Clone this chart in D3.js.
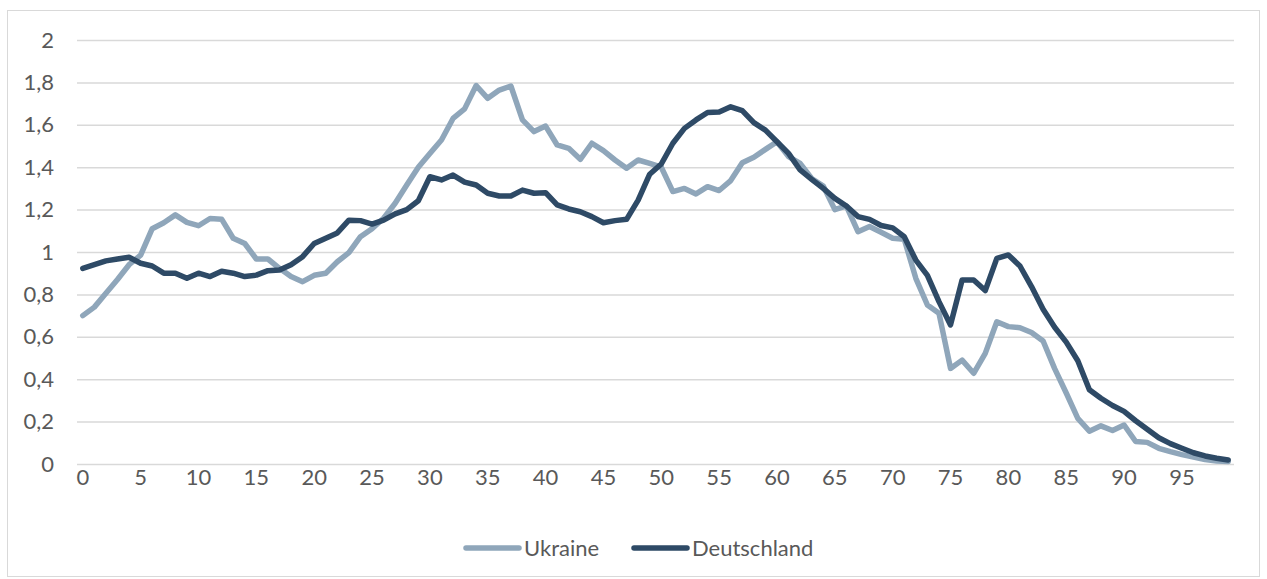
<!DOCTYPE html>
<html>
<head>
<meta charset="utf-8">
<script src="https://cdn.jsdelivr.net/npm/d3@7"></script>
<style>
  html, body { margin: 0; padding: 0; background: #fff; }
  svg { display: block; font-family: Lato, "Open Sans", sans-serif; }
</style>
</head>
<body>
<svg id="chart" width="1267" height="579"></svg>
<script>
const ages = [0,1,2,3,4,5,6,7,8,9,10,11,12,13,14,15,16,17,18,19,20,21,22,23,24,25,26,27,28,29,30,31,32,33,34,35,36,37,38,39,40,41,42,43,44,45,46,47,48,49,50,51,52,53,54,55,56,57,58,59,60,61,62,63,64,65,66,67,68,69,70,71,72,73,74,75,76,77,78,79,80,81,82,83,84,85,86,87,88,89,90,91,92,93,94,95,96,97,98,99];

const ukraine = [0.70,0.74,0.805,0.87,0.94,0.985,1.11,1.138,1.175,1.14,1.124,1.158,1.155,1.065,1.04,0.967,0.967,0.923,0.884,0.86,0.89,0.90,0.954,0.997,1.072,1.11,1.159,1.23,1.316,1.40,1.465,1.528,1.63,1.675,1.785,1.725,1.764,1.783,1.623,1.568,1.594,1.505,1.489,1.437,1.513,1.478,1.434,1.395,1.434,1.418,1.40,1.285,1.30,1.274,1.308,1.29,1.337,1.421,1.447,1.484,1.52,1.45,1.418,1.347,1.311,1.20,1.217,1.096,1.12,1.093,1.065,1.06,0.876,0.75,0.711,0.451,0.49,0.428,0.522,0.671,0.648,0.643,0.62,0.58,0.45,0.335,0.215,0.155,0.18,0.158,0.184,0.106,0.102,0.074,0.058,0.044,0.033,0.021,0.014,0.012];

const deutschland = [0.923,0.94,0.958,0.967,0.975,0.947,0.934,0.90,0.90,0.876,0.90,0.884,0.909,0.90,0.884,0.891,0.912,0.915,0.94,0.978,1.04,1.065,1.09,1.15,1.148,1.132,1.15,1.18,1.20,1.242,1.355,1.34,1.363,1.33,1.316,1.277,1.264,1.264,1.292,1.277,1.28,1.222,1.203,1.19,1.167,1.138,1.148,1.154,1.245,1.367,1.415,1.513,1.583,1.623,1.658,1.66,1.685,1.667,1.61,1.575,1.52,1.465,1.387,1.343,1.30,1.253,1.217,1.167,1.154,1.125,1.114,1.072,0.962,0.89,0.766,0.656,0.868,0.868,0.818,0.97,0.986,0.934,0.837,0.73,0.645,0.575,0.487,0.35,0.31,0.276,0.248,0.204,0.164,0.124,0.096,0.074,0.053,0.038,0.027,0.019];

const seriesNames = ["Ukraine", "Deutschland"];
const seriesColors = ["#8fa6ba", "#2e4a66"];
const yTicks = [0,0.2,0.4,0.6,0.8,1,1.2,1.4,1.6,1.8,2];
const xTicks = [0,5,10,15,20,25,30,35,40,45,50,55,60,65,70,75,80,85,90,95];

const svg = d3.select("#chart");
const plotLeft = 77, plotRight = 1234, plotTop = 40, plotBottom = 464;
const textColor = "#595959";
const fontSize = 22;

// outer border
svg.append("rect").attr("x", 7.5).attr("y", 10.5).attr("width", 1252).attr("height", 566)
  .attr("fill", "none").attr("stroke", "#d9d9d9").attr("stroke-width", 1);

const x = d3.scaleBand().domain(ages).range([plotLeft, plotRight]).padding(0);
const xc = d => x(d) + x.bandwidth() / 2;
const y = d3.scaleLinear().domain([0, 2]).range([plotBottom, plotTop]);

const locale = d3.formatLocale({decimal: ",", thousands: ".", grouping: [3], currency: ["", "€"]});
const fmt = locale.format(".1~f");

// y axis with gridlines
const yAxis = d3.axisLeft(y).tickValues(yTicks).tickFormat(fmt)
  .tickSizeInner(-(plotRight - plotLeft)).tickSizeOuter(0).tickPadding(23);
const gy = svg.append("g").attr("transform", `translate(${plotLeft},0)`).call(yAxis);
gy.select(".domain").remove();
gy.selectAll(".tick line").attr("stroke", "#d9d9d9").attr("stroke-width", 1.5);
gy.selectAll(".tick text").attr("fill", textColor).attr("font-size", fontSize)
  .attr("font-family", "Lato, 'Open Sans', sans-serif");

// x axis
const xAxis = d3.axisBottom(x).tickValues(xTicks).tickSize(0).tickPadding(5);
const gx = svg.append("g").attr("transform", `translate(0,${plotBottom})`).call(xAxis);
gx.select(".domain").remove();
gx.selectAll(".tick text").attr("fill", textColor).attr("font-size", fontSize)
  .attr("font-family", "Lato, 'Open Sans', sans-serif");

// lines
const line = d3.line().x((d, i) => xc(ages[i])).y(d => y(d)).curve(d3.curveLinear);
[ukraine, deutschland].forEach((vals, k) => {
  svg.append("path").datum(vals)
    .attr("d", line)
    .attr("fill", "none")
    .attr("stroke", seriesColors[k])
    .attr("stroke-width", 5.5)
    .attr("stroke-linejoin", "round")
    .attr("stroke-linecap", "round");
});

// legend
const legendItems = [
  {name: seriesNames[0], color: seriesColors[0], x1: 466, x2: 519, tx: 524},
  {name: seriesNames[1], color: seriesColors[1], x1: 634, x2: 687, tx: 692}
];
const ly = 548;
legendItems.forEach(it => {
  svg.append("line").attr("x1", it.x1).attr("x2", it.x2).attr("y1", ly).attr("y2", ly)
    .attr("stroke", it.color).attr("stroke-width", 5.5).attr("stroke-linecap", "round");
  svg.append("text").attr("x", it.tx).attr("y", ly).attr("dy", "0.35em")
    .attr("fill", textColor).attr("font-size", fontSize).text(it.name);
});
</script>
</body>
</html>
